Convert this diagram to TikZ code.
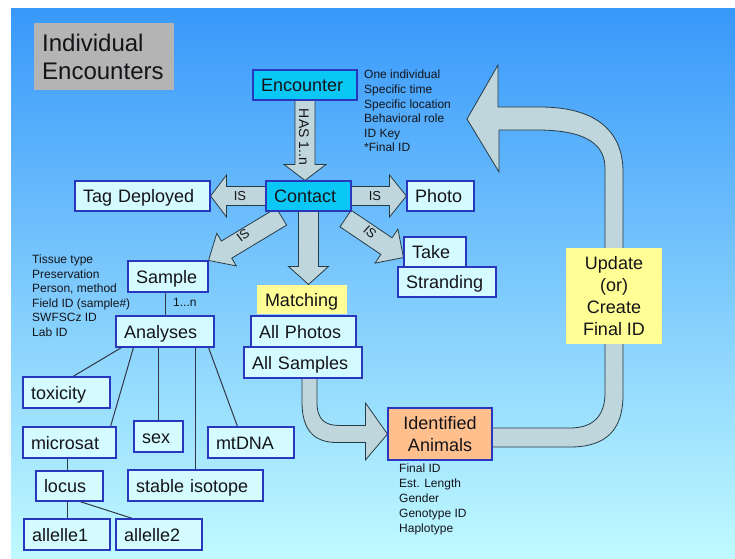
\documentclass[tikz,border=0pt]{standalone}
\usepackage{fontspec}
\setmainfont{Liberation Sans}
\usetikzlibrary{calc}
\pgfdeclarelayer{back}
\pgfdeclarelayer{arrowlayer}
\pgfsetlayers{back,arrowlayer,main}
\definecolor{bgtop}{RGB}{56,152,250}
\definecolor{bgbot}{RGB}{192,250,255}
\definecolor{boxline}{RGB}{40,55,190}
\definecolor{boxfill}{RGB}{212,251,255}
\definecolor{cyanfill}{RGB}{10,200,245}
\definecolor{yel}{RGB}{255,255,150}
\definecolor{salmon}{RGB}{255,192,142}
\definecolor{arrfill}{RGB}{190,214,220}
\definecolor{arrline}{RGB}{40,60,70}
\definecolor{titlegray}{RGB}{180,180,180}
\definecolor{txt}{RGB}{20,20,25}
\definecolor{treeline}{RGB}{50,55,70}
\newcommand\fsz[2]{\fontsize{#1}{#2}\selectfont}
% block arrow: #1 start, #2 tip, #3 half shaft, #4 half head, #5 head length
\newcommand\barrow[5]{%
  \coordinate (bah) at ($(#2)!#5!(#1)$);
  \draw[blockarrow] ($(#1)!#3!90:(#2)$) -- ($(bah)!#3!90:(#2)$) -- ($(bah)!#4!90:(#2)$) -- (#2)
     -- ($(bah)!#4!-90:(#2)$) -- ($(bah)!#3!-90:(#2)$) -- ($(#1)!#3!-90:(#2)$) -- cycle;
}
\begin{document}
\begin{tikzpicture}[x=1pt,y=-1pt,
  box/.style={draw=boxline, line width=1.1pt, fill=boxfill, inner xsep=8pt, inner ysep=0pt,
    align=left, font=\fsz{18}{22}, text=txt, text height=13pt, text depth=0pt},
  cbox/.style={box, fill=cyanfill},
  blockarrow/.style={draw=arrline, fill=arrfill, line width=0.8pt, line join=miter},
  treel/.style={draw=treeline, line width=1pt},
  islabel/.style={font=\fsz{13}{15}, text=txt, inner sep=0pt},
  notes/.style={font=\fsz{12}{14.6}, text=txt, inner sep=0pt, align=left, anchor=north west}]
\useasboundingbox (0,0) rectangle (735,558);
\begin{pgfonlayer}{back}
  \fill[white] (0,0) rectangle (735,558);
  \shade[top color=bgtop, bottom color=bgbot] (11,8) rectangle (735,558);
\end{pgfonlayer}

% title
\node[fill=titlegray, anchor=north west, inner xsep=8pt, inner ysep=0pt, text width=124pt,
  minimum height=67pt, align=left, font=\fsz{24}{28}, text=txt] (title) at (34,23) {Individual\\Encounters};

% main nodes
\node[cbox, text width=88pt, minimum height=30pt] (encounter) at (305,85) {Encounter};
\node[cbox, text width=69pt, minimum height=30pt] (contact) at (308.5,196) {Contact};
\node[box, text width=51pt, minimum height=30pt] (photo) at (440.5,196) {Photo};
\node[box, text width=119pt, minimum height=30pt] (tag) at (142.5,196) {Tag Deployed};
\node[box, text width=64pt, minimum height=31pt] (sample) at (168,276.5) {Sample};
\node[box, text width=46pt, minimum height=30pt] (take) at (435,252) {Take};
\node[box, text width=82pt, minimum height=30pt] (stranding) at (447,282) {Stranding};
\node[box, draw=none, fill=yel, text width=74pt, minimum height=29pt, inner xsep=8pt] (matching) at (302,299.5) {Matching};
\node[box, text width=89pt, minimum height=31pt] (allphotos) at (303.5,331.5) {All Photos};
\node[box, text width=102pt, minimum height=31pt] (allsamples) at (303,362.5) {All Samples};
\node[box, text width=82pt, minimum height=31pt] (analyses) at (165,331.5) {Analyses};
\node[box, text width=71pt, minimum height=31pt] (toxicity) at (66.5,392.5) {toxicity};
\node[box, text width=77pt, minimum height=31pt] (microsat) at (69.5,442.5) {microsat};
\node[box, text width=33pt, minimum height=31pt] (sex) at (158.5,436.5) {sex};
\node[box, text width=70pt, minimum height=31pt] (mtdna) at (251,442.5) {mtDNA};
\node[box, text width=119pt, minimum height=31pt] (stable) at (195.5,485.5) {stable isotope};
\node[box, text width=51pt, minimum height=30pt] (locus) at (69.5,486) {locus};
\node[box, text width=70pt, minimum height=31pt] (allele1) at (67,534.5) {allelle1};
\node[box, text width=70pt, minimum height=31pt] (allele2) at (159,534.5) {allelle2};
\node[draw=boxline, line width=1.1pt, fill=salmon, minimum width=104pt, minimum height=52pt,
  inner sep=0pt, align=center, font=\fsz{18}{22}, text=txt] (identified) at (440,434) {Identified\\Animals};
\node[fill=yel, minimum width=96pt, minimum height=96pt, inner sep=0pt, align=center,
  font=\fsz{18}{22}, text=txt] (update) at (614,296) {Update\\(or)\\Create\\Final ID};

% notes
\node[notes] (encnotes) at (364,70) {One individual\\Specific time\\Specific location\\Behavioral role\\ID Key\\*Final ID};
\node[notes] (samplenotes) at (32,254.5) {Tissue type\\Preservation\\Person, method\\Field ID (sample\#)\\SWFSCz ID\\Lab ID};
\node[notes, font=\fsz{12}{15}] (idnotes) at (399,463.5) {Final ID\\Est. Length\\Gender\\Genotype ID\\Haplotype};
\node[font=\fsz{12}{14}, text=txt, inner sep=0pt, anchor=west] (onen) at (173,302) {1...n};

% labels on block arrows
\node[islabel, rotate=-90, font=\fsz{14}{16}] (haslabel) at (304,137) {HAS 1..n};
\node[islabel] (istag) at (240,196) {IS};
\node[islabel] (isphoto) at (375,196) {IS};
\node[islabel, rotate=37] (issample) at (243,235) {IS};
\node[islabel, rotate=-42] (istake) at (370,232) {IS};

\begin{pgfonlayer}{arrowlayer}
  \coordinate (hasS) at (encounter.south);
  \coordinate (hasE) at (encounter.south |- contact.north);
  \barrow{hasS}{hasE}{10pt}{21pt}{16pt}
  \barrow{contact.east}{photo.west}{9.5pt}{21pt}{17pt}
  \barrow{contact.west}{tag.east}{9.5pt}{21pt}{16pt}
  \coordinate (sampS) at ($(contact.south west)+(16,5)$);
  \barrow{sampS}{sample.north east}{10pt}{19pt}{21pt}
  \coordinate (takeS) at ($(contact.south east)+(-6,7)$);
  \coordinate (takeE) at ($(take.south west)+(0,-10)$);
  \barrow{takeS}{takeE}{10pt}{20.5pt}{20.5pt}
  \coordinate (matchE) at (contact.south |- matching.north);
  \barrow{contact.south}{matchE}{10pt}{20pt}{18pt}

  % curved arrow All Samples -> Identified Animals
  \coordinate (cA) at (allsamples.south);
  \coordinate (cB) at (identified.west);
  \coordinate (cC) at (cA |- cB);
  \draw[blockarrow] ($(cA)+(14,0)$) -- ($(cC)+(14,-32)$)
     .. controls ($(cC)+(14,-14)$) and ($(cC)+(22,-8.5)$) .. ($(cC)+(37,-8.5)$)
     -- ($(cB)+(-22,-8.5)$) -- ($(cB)+(-22,-31)$) -- (cB) -- ($(cB)+(-22,26)$) -- ($(cB)+(-22,8.5)$)
     -- ($(cC)+(34,8.5)$) .. controls ($(cC)+(10,8.5)$) and ($(cC)+(-1,-5)$) .. ($(cC)+(-1,-32)$)
     -- ($(cA)+(-1,0)$) -- cycle;

  % big return arrow Identified Animals -> Encounter side
  \coordinate (rettip) at (467,119);
  \draw[blockarrow] ($(identified.east)+(-2,13)$) -- (570,447)
     .. controls (606,447) and (623,430) .. (623,395) -- (623,172)
     .. controls (623,128) and (592,107) .. (540,107) -- (498,107) -- (498,65) -- (rettip)
     -- (499,172) -- (499,130) -- (537,130)
     .. controls (578,130) and (605,140) .. (605,168) -- (605,393)
     .. controls (605,415) and (594,428) .. (570,428) -- ($(identified.east)+(-2,-6)$) -- cycle;

  % tree connectors
  \draw[treel] (analyses.north) -- (analyses.north |- sample.south);
  \draw[treel] ($(analyses.south west)+(6,0)$) -- ($(toxicity.north)+(6.5,0)$);
  \draw[treel] ($(analyses.south west)+(18,0)$) -- ($(microsat.north east)+(-6,0)$);
  \draw[treel] (sex.north |- analyses.south) -- (sex.north);
  \draw[treel] (stable.north |- analyses.south) -- (stable.north);
  \draw[treel] ($(analyses.south east)+(-6,0)$) -- ($(mtdna.north west)+(30,0)$);
  \draw[treel] ($(locus.north)+(-2.5,0)$) -- ($(locus.north |- microsat.south)+(-2.5,0)$);
  \draw[treel] (allele1.north) -- (allele1.north |- locus.south);
  \draw[treel] ($(locus.south)+(10.5,0)$) -- ($(allele2.north west)+(17,0)$);
\end{pgfonlayer}
\end{tikzpicture}
\end{document}
